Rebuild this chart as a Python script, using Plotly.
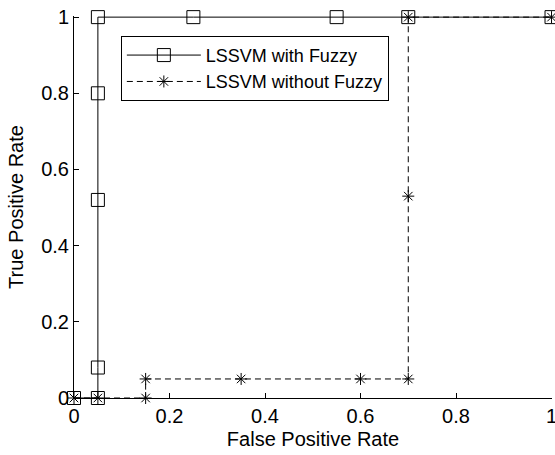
import plotly.graph_objects as go

# LSSVM with Fuzzy (solid, squares)
fpr_fuzzy = [0, 0.05, 0.05, 0.05, 0.05, 0.05, 0.25, 0.55, 0.7, 1.0]
tpr_fuzzy = [0, 0, 0.08, 0.52, 0.8, 1.0, 1.0, 1.0, 1.0, 1.0]

# LSSVM without Fuzzy (dashed, asterisks)
fpr_nofuzzy = [0, 0.05, 0.15, 0.15, 0.35, 0.6, 0.7, 0.7, 0.7, 1.0]
tpr_nofuzzy = [0, 0, 0, 0.05, 0.05, 0.05, 0.05, 0.53, 1.0, 1.0]

tick_vals = [0, 0.2, 0.4, 0.6, 0.8, 1]
tick_text = ["0", "0.2", "0.4", "0.6", "0.8", "1"]

FONT = "Liberation Sans, Arial, Helvetica, sans-serif"

fig = go.Figure()
fig.add_trace(go.Scatter(
    x=fpr_fuzzy, y=tpr_fuzzy, mode="lines+markers", name="LSSVM with Fuzzy",
    legendgroup="a",
    line=dict(color="black", width=1),
    marker=dict(symbol="square-open", size=13, color="black", line=dict(width=1, color="black")),
    cliponaxis=False,
))
fig.add_trace(go.Scatter(
    x=fpr_nofuzzy, y=tpr_nofuzzy, mode="lines+markers", name="LSSVM without Fuzzy",
    legendgroup="b",
    line=dict(color="black", width=1, dash="6px,4px"),
    marker=dict(symbol="asterisk-open", size=10, color="black", line=dict(width=1, color="black")),
    cliponaxis=False,
))

axis_common = dict(
    showline=True, linecolor="black", linewidth=1, mirror=False,
    ticks="inside", ticklen=5, tickcolor="black", tickwidth=1,
    showgrid=False, zeroline=False, automargin=False,
    tickvals=tick_vals, ticktext=tick_text,
    ticklabeloverflow="allow",
    tickfont=dict(family=FONT, size=20, color="black"),
)

fig.update_layout(
    width=555, height=455,
    margin=dict(l=74, r=3, t=16, b=57),
    paper_bgcolor="white", plot_bgcolor="white",
    font=dict(family=FONT, color="black"),
    xaxis=dict(range=[0, 1.001], ticklabelstandoff=0,
               title=dict(text="False Positive Rate", font=dict(family=FONT, size=20), standoff=5),
               **axis_common),
    yaxis=dict(range=[0, 1.003],
               title=dict(text="True Positive Rate", font=dict(family=FONT, size=20), standoff=12),
               **axis_common),
    legend=dict(
        x=0.098, y=0.948, xanchor="left", yanchor="top",
        bordercolor="black", borderwidth=1, bgcolor="white",
        font=dict(family=FONT, size=18, color="black"),
        itemwidth=74, tracegroupgap=0,
    ),
    showlegend=True,
)

fig.write_html("out.html", config={"displayModeBar": False},
               post_script="document.body.style.margin='0';")
